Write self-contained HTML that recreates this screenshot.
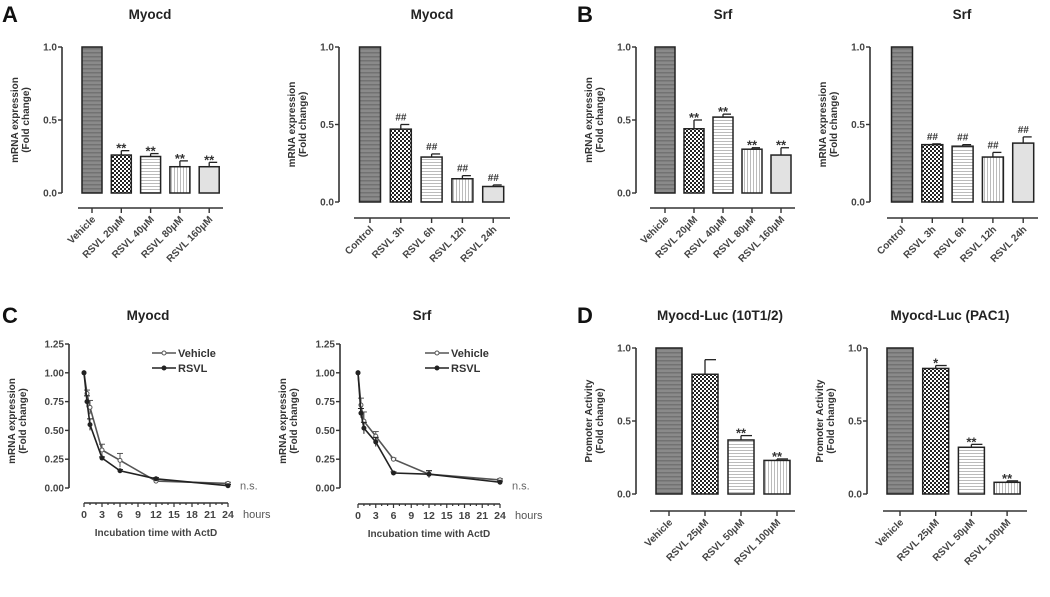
<!DOCTYPE html>
<html><head><meta charset="utf-8"><style>
html,body{margin:0;padding:0;background:#fff}
svg{display:block;font-family:"Liberation Sans",Arial,sans-serif}
</style></head><body>
<svg id="fig" width="1050" height="597" viewBox="0 0 1050 597">
<defs>
<pattern id="pVeh" width="4" height="4" patternUnits="userSpaceOnUse"><rect width="4" height="4" fill="#8a8a8a"/><rect width="4" height="1.5" fill="#727272"/></pattern>
<pattern id="pChk" width="4" height="4" patternUnits="userSpaceOnUse"><rect width="4" height="4" fill="#fff"/><rect width="2" height="2" fill="#222"/><rect x="2" y="2" width="2" height="2" fill="#222"/></pattern>
<pattern id="pHor" width="3" height="3" patternUnits="userSpaceOnUse"><rect width="3" height="3" fill="#fff"/><rect width="3" height="1" fill="#bbb"/></pattern>
<pattern id="pVer" width="3" height="3" patternUnits="userSpaceOnUse"><rect width="3" height="3" fill="#fff"/><rect width="1" height="3" fill="#bbb"/></pattern>
<pattern id="pGry" width="4" height="4" patternUnits="userSpaceOnUse"><rect width="4" height="4" fill="#e2e2e2"/></pattern>
</defs>
<g id="root"></g>
</svg>
<script>
// ---- data ----
const a1Cats = ["Vehicle","RSVL 20\u03bcM","RSVL 40\u03bcM","RSVL 80\u03bcM","RSVL 160\u03bcM"];
const a1Vals = [1, 0.26, 0.25, 0.18, 0.18];
const a1Errs = [0, 0.03, 0.02, 0.04, 0.03];
const a1Sig = ["", "**", "**", "**", "**"];
const a2Cats = ["Control","RSVL 3h","RSVL 6h","RSVL 12h","RSVL 24h"];
const a2Vals = [1, 0.47, 0.29, 0.15, 0.10];
const a2Errs = [0, 0.03, 0.02, 0.02, 0.01];
const a2Sig = ["", "##", "##", "##", "##"];
const b1Cats = ["Vehicle","RSVL 20\u03bcM","RSVL 40\u03bcM","RSVL 80\u03bcM","RSVL 160\u03bcM"];
const b1Vals = [1, 0.44, 0.52, 0.30, 0.26];
const b1Errs = [0, 0.06, 0.02, 0.01, 0.05];
const b1Sig = ["", "**", "**", "**", "**"];
const b2Cats = ["Control","RSVL 3h","RSVL 6h","RSVL 12h","RSVL 24h"];
const b2Vals = [1, 0.37, 0.36, 0.29, 0.38];
const b2Errs = [0, 0.005, 0.01, 0.03, 0.04];
const b2Sig = ["", "##", "##", "##", "##"];
const d1Cats = ["Vehicle","RSVL 25\u03bcM","RSVL 50\u03bcM","RSVL 100\u03bcM"];
const d1Vals = [1, 0.82, 0.37, 0.23];
const d1Errs = [0, 0.10, 0.03, 0.01];
const d1Sig = ["", "", "**", "**"];
const d2Cats = ["Vehicle","RSVL 25\u03bcM","RSVL 50\u03bcM","RSVL 100\u03bcM"];
const d2Vals = [1, 0.86, 0.32, 0.08];
const d2Errs = [0, 0.02, 0.02, 0.01];
const d2Sig = ["", "*", "**", "**"];
const barTicks = [0, 0.5, 1.0];
const barTickLabels = ["0.0", "0.5", "1.0"];
const cTimes = [0, 0.5, 1, 3, 6, 12, 24];
const c1Veh = [1, 0.82, 0.70, 0.33, 0.24, 0.06, 0.04];
const c1VehErr = [0, 0.03, 0.06, 0.05, 0.06, 0.01, 0.01];
const c1Rsv = [1, 0.75, 0.55, 0.26, 0.15, 0.08, 0.02];
const c1RsvErr = [0, 0.05, 0.05, 0.01, 0.01, 0.01, 0.01];
const c2Veh = [1, 0.72, 0.58, 0.45, 0.25, 0.12, 0.07];
const c2VehErr = [0, 0.06, 0.08, 0.04, 0.01, 0.03, 0.01];
const c2Rsv = [1, 0.65, 0.52, 0.40, 0.13, 0.12, 0.05];
const c2RsvErr = [0, 0.04, 0.05, 0.04, 0.01, 0.03, 0.01];
const lineYTicks = [0, 0.25, 0.5, 0.75, 1.0, 1.25];
const lineYTickLabels = ["0.00","0.25","0.50","0.75","1.00","1.25"];
const lineXTicks = [0,3,6,9,12,15,18,21,24];

const NS = "http://www.w3.org/2000/svg";
const root = document.getElementById("root");
function el(tag, attrs, parent, text){
  const e = document.createElementNS(NS, tag);
  for (const k in attrs) e.setAttribute(k, attrs[k]);
  if (text !== undefined) e.textContent = text;
  (parent || root).appendChild(e);
  return e;
}
const fills = ["url(#pVeh)","url(#pChk)","url(#pHor)","url(#pVer)","url(#pGry)"];

function yLabel(g, x, yc, l1, l2){
  const t = el("text", {x:0, y:0, transform:`translate(${x},${yc}) rotate(-90)`, "text-anchor":"middle", "font-size":"10", "font-weight":"bold", fill:"#333"}, g);
  
  
  el("tspan", {x:0, dy:0}, t, l1);
  el("tspan", {x:0, dy:11}, t, l2);
}

function barChart(name, o, cats, vals, errs, sig, fillIdx){
  const g = el("g", {});
  
  
  const y = v => o.y0 - (o.y0 - o.y1) * v;
  const x = i => o.c0 + i * o.step;
  const tt = el("text", {x:o.tx, y:o.ty, "text-anchor":"middle", "font-size":"13.5", "font-weight":"bold", fill:"#222"}, g, o.title);
  
  
  const ya = el("line", {x1:o.ax, x2:o.ax, y1:o.y1, y2:o.y0, stroke:"#333", "stroke-width":1.6}, g);
  
  
  barTicks.forEach((t, i) => {
    el("line", {x1:o.ax-4, x2:o.ax, y1:y(t), y2:y(t), stroke:"#333", "stroke-width":1.4}, g);
    const lb = el("text", {x:o.ax-5, y:y(t)+3.5, "text-anchor":"end", "font-size":"10", "font-weight":"bold", fill:"#444"}, g, barTickLabels[i]);
    
    
  });
  yLabel(g, o.ax - 44, (o.y0 + o.y1) / 2, o.yl1, o.yl2);
  const xa = el("line", {x1:o.xa0, x2:o.xa1, y1:o.xay, y2:o.xay, stroke:"#333", "stroke-width":1.6}, g);
  
  
  cats.forEach((c, i) => {
    const cx = x(i);
    el("line", {x1:cx, x2:cx, y1:o.xay, y2:o.xay+5, stroke:"#333", "stroke-width":1.4}, g);
    const lb = el("text", {x:0, y:0, transform:`translate(${cx+4},${o.xay+12}) rotate(-45)`, "text-anchor":"end", "font-size":"10", "font-weight":"bold", fill:"#444"}, g, c);
    
    
    const bw = o.bw;
    const top = y(vals[i]);
    const b = el("rect", {x:cx-bw/2, y:top, width:bw, height:o.y0-top, fill:fills[fillIdx[i]], stroke:"#222", "stroke-width":1.5}, g);
    
    
    if (errs[i] > 0) {
      const et = y(vals[i] + errs[i]);
      el("line", {x1:cx, x2:cx, y1:et, y2:top, stroke:"#222", "stroke-width":1.3}, g);
      el("line", {x1:cx, x2:cx+bw/2-2, y1:et, y2:et, stroke:"#222", "stroke-width":1.3}, g);
    }
    if (sig[i]) {
      const s = el("text", {x:cx, y:y(vals[i]+errs[i]) - 4 + (sig[i][0]==="*"?6:0), "text-anchor":"middle", "font-size": sig[i][0]==="*"?"13":"10", "font-weight":"bold", "font-style": sig[i][0]==="#"?"italic":"normal", fill:"#333"}, g, sig[i]);
      
      
    }
  });
}

const mr1 = "mRNA expression", mr2 = "(Fold change)";
barChart("chart-a-myocd-dose", {title:"Myocd", tx:150, ty:19, ax:62, y1:47, y0:193, c0:92, step:29.3, bw:20, xay:208, xa0:78, xa1:223, yl1:mr1, yl2:mr2}, a1Cats, a1Vals, a1Errs, a1Sig, [0,1,2,3,4]);
barChart("chart-a-myocd-time", {title:"Myocd", tx:432, ty:19, ax:339, y1:47, y0:202, c0:370, step:30.8, bw:21, xay:218, xa0:354, xa1:510, yl1:mr1, yl2:mr2}, a2Cats, a2Vals, a2Errs, a2Sig, [0,1,2,3,4]);
barChart("chart-b-srf-dose", {title:"Srf", tx:723, ty:19, ax:636, y1:47, y0:193, c0:665, step:29, bw:20, xay:208, xa0:650, xa1:795, yl1:mr1, yl2:mr2}, b1Cats, b1Vals, b1Errs, b1Sig, [0,1,2,3,4]);
barChart("chart-b-srf-time", {title:"Srf", tx:962, ty:19, ax:870, y1:47, y0:202, c0:902, step:30.3, bw:21, xay:218, xa0:887, xa1:1038, yl1:mr1, yl2:mr2}, b2Cats, b2Vals, b2Errs, b2Sig, [0,1,2,3,4]);
barChart("chart-d-10t12", {title:"Myocd-Luc (10T1/2)", tx:720, ty:320, ax:636, y1:348, y0:494, c0:669, step:36, bw:26, xay:511, xa0:650, xa1:795, yl1:"Promoter Activity", yl2:"(Fold change)"}, d1Cats, d1Vals, d1Errs, d1Sig, [0,1,2,3]);
barChart("chart-d-pac1", {title:"Myocd-Luc (PAC1)", tx:950, ty:320, ax:867, y1:348, y0:494, c0:900, step:35.7, bw:26, xay:511, xa0:883, xa1:1027, yl1:"Promoter Activity", yl2:"(Fold change)"}, d2Cats, d2Vals, d2Errs, d2Sig, [0,1,2,3]);

function lineChart(name, o, veh, vehErr, rsv, rsvErr){
  const g = el("g", {});
  
  
  const y = v => o.y0 - (o.y0 - o.y1) * v / 1.25;
  const x = t => o.x0 + (o.x1 - o.x0) * t / 24;
  const tt = el("text", {x:o.tx, y:320, "text-anchor":"middle", "font-size":"13.5", "font-weight":"bold", fill:"#222"}, g, o.title);
  
  
  const ya = el("line", {x1:o.ax, x2:o.ax, y1:o.y1, y2:o.y0, stroke:"#333", "stroke-width":1.6}, g);
  
  
  lineYTicks.forEach((t, i) => {
    el("line", {x1:o.ax-4, x2:o.ax, y1:y(t), y2:y(t), stroke:"#333", "stroke-width":1.4}, g);
    const lb = el("text", {x:o.ax-5, y:y(t)+3.5, "text-anchor":"end", "font-size":"10", "font-weight":"bold", fill:"#444"}, g, lineYTickLabels[i]);
    
    
  });
  yLabel(g, o.ax - 54, (o.y0 + o.y1) / 2 + 5, mr1, mr2);
  const xa = el("line", {x1:x(0), x2:x(24), y1:o.xay, y2:o.xay, stroke:"#333", "stroke-width":1.6}, g);
  
  
  for (let t = 0; t <= 24; t++) el("line", {x1:x(t), x2:x(t), y1:o.xay, y2:o.xay+(t%3===0?4:2), stroke:"#333", "stroke-width":1.2}, g);
  lineXTicks.forEach(t => {
    const lb = el("text", {x:x(t), y:o.xay+15, "text-anchor":"middle", "font-size":"10.5", "font-weight":"bold", fill:"#444"}, g, String(t));
    
    
  });
  const hu = el("text", {x:x(24)+15, y:o.xay+15, "font-size":"11", fill:"#555"}, g, "hours");
  
  
  const xt = el("text", {x:(x(0)+x(24))/2, y:o.xay+33, "text-anchor":"middle", "font-size":"10", "font-weight":"bold", fill:"#444"}, g, "Incubation time with ActD");
  
  
  const ns = el("text", {x:x(24)+12, y:y(0.03)+5, "font-size":"11", fill:"#666"}, g, "n.s.");
  
  
  [[veh, vehErr, "#555", "#fff", "vehicle-line"], [rsv, rsvErr, "#222", "#222", "rsvl-line"]].forEach(s => {
    const pts = cTimes.map((t, i) => x(t) + "," + y(s[0][i])).join(" ");
    const pl = el("polyline", {points:pts, fill:"none", stroke:s[2], "stroke-width":1.6}, g);
    
    
    cTimes.forEach((t, i) => {
      if (s[1][i] > 0) {
        el("line", {x1:x(t), x2:x(t), y1:y(s[0][i]-s[1][i]), y2:y(s[0][i]+s[1][i]), stroke:s[2], "stroke-width":1}, g);
        el("line", {x1:x(t)-3, x2:x(t)+3, y1:y(s[0][i]+s[1][i]), y2:y(s[0][i]+s[1][i]), stroke:s[2], "stroke-width":1}, g);
      }
      el("circle", {cx:x(t), cy:y(s[0][i]), r:2, fill:s[3], stroke:s[2], "stroke-width":1}, g);
    });
  });
  [["Vehicle", "#555", "#fff", 353], ["RSVL", "#222", "#222", 368]].forEach(l => {
    const lg = el("g", {}, g);
    
    
    el("line", {x1:o.lx, x2:o.lx+24, y1:l[3], y2:l[3], stroke:l[1], "stroke-width":1.6}, lg);
    el("circle", {cx:o.lx+12, cy:l[3], r:2, fill:l[2], stroke:l[1]}, lg);
    el("text", {x:o.lx+26, y:l[3]+4, "font-size":"11", "font-weight":"bold", fill:"#333"}, lg, l[0]);
  });
}
lineChart("chart-c-myocd", {title:"Myocd", tx:148, ax:69, y1:344, y0:488, x0:84, x1:228, xay:503, lx:152}, c1Veh, c1VehErr, c1Rsv, c1RsvErr);
lineChart("chart-c-srf", {title:"Srf", tx:422, ax:340, y1:344, y0:488, x0:358, x1:500, xay:504, lx:425}, c2Veh, c2VehErr, c2Rsv, c2RsvErr);

[["A",2,22],["B",577,22],["C",2,323],["D",577,323]].forEach(p => {
  const t = el("text", {x:p[1], y:p[2], "font-size":"22", "font-weight":"bold", fill:"#111"}, root, p[0]);
  
  
});
</script>
</body></html>
